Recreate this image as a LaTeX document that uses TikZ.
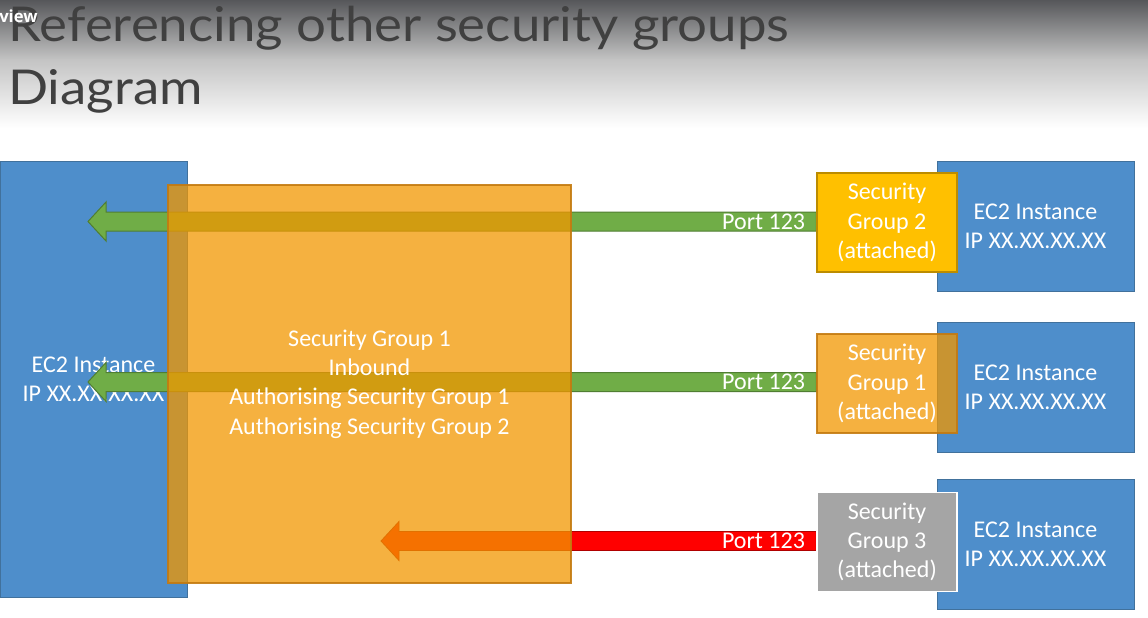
\documentclass[tikz,border=0pt]{standalone}
\usepackage{fontspec}
\setmainfont{Carlito}
\newfontfamily\titlefont{Lato}
\newfontfamily\uifont{Open Sans}
\usetikzlibrary{calc}
\definecolor{ec2blue}{HTML}{4E8ECB}
\definecolor{ec2border}{HTML}{41719C}
\definecolor{sgorange}{HTML}{F29700}
\definecolor{sgorangeborder}{HTML}{C47A10}
\definecolor{sgyellow}{HTML}{FFC000}
\definecolor{sgyellowborder}{HTML}{BC8C00}
\definecolor{sggrey}{HTML}{A5A5A5}
\definecolor{arrgreen}{HTML}{70AD47}
\definecolor{arrgreenborder}{HTML}{507E32}
\definecolor{arrred}{HTML}{FF0000}
\definecolor{arrredborder}{HTML}{B00000}
\definecolor{titlegrey}{HTML}{404040}
\definecolor{topgrey}{HTML}{56575A}
\definecolor{midgrey}{HTML}{C4C4C4}
\pgfdeclarelayer{bg}
\pgfdeclarelayer{mid}
\pgfsetlayers{bg,mid,main}
\newcommand\blockarrow[3]{%
  \filldraw[#1] ($(#2.west |- #3)+(0,-9.5)$) -- ($(#3)+(18,-9.5)$) -- ($(#3)+(18,-19.5)$) -- (#3)
    -- ($(#3)+(18,19.5)$) -- ($(#3)+(18,9.5)$) -- ($(#2.west |- #3)+(0,9.5)$) -- cycle;}
\begin{document}
\begin{tikzpicture}[x=0.75pt,y=-0.75pt,
  txt/.style={text=white, align=center, font=\fontsize{18}{22}\selectfont, inner sep=0pt},
  ec2/.style={txt, draw=ec2border, fill=ec2blue, line width=0.75pt},
  ec2r/.style={ec2, minimum width=147.75pt, minimum height=97.5pt},
  sgbox/.style={txt, minimum width=105pt, minimum height=74.25pt, line width=0.9pt},
  sgtrans/.style={fill=sgorange, fill opacity=0.75, text opacity=1, draw=sgorangeborder, draw opacity=0.9},
  greenarr/.style={fill=arrgreen, draw=arrgreenborder, line width=0.75pt},
  redarr/.style={fill=arrred, draw=arrredborder, line width=0.6pt},
  port/.style={text=white, font=\fontsize{18}{21.6}\selectfont, inner sep=0pt, anchor=east},
  titletxt/.style={text=titlegrey, font=\titlefont\fontsize{36}{40}\selectfont, inner sep=0pt, anchor=base west, xscale=1.1}
]
\useasboundingbox (0,0) rectangle (1148,617);
\begin{pgfonlayer}{bg}
  \fill[white] (0,0) rectangle (1148,617);
  \shade[top color=topgrey, bottom color=midgrey] (0,0) rectangle (1148,60);
  \shade[top color=midgrey, bottom color=white] (0,60) rectangle (1148,128);
  \node[ec2, minimum width=140.25pt, minimum height=327pt] (ec2L) at (93.5,379) {EC2 Instance\\IP XX.XX.XX.XX};
\end{pgfonlayer}
% title
\node[titletxt] (title1) at (8,41.7) {Referencing other security groups};
\node[titletxt] (title2) at (8,104) {Diagram};
\node[text=white, font=\uifont\bfseries\fontsize{12.5}{15}\selectfont, inner sep=0pt, anchor=base west] (view) at (-1,23) {view};
% big security group box
\node[txt, sgtrans, line width=0.9pt, minimum width=302.25pt, minimum height=298.5pt] (sg1in) at (369.5,384)
  {Security Group 1\\Inbound\\Authorising Security Group 1\\Authorising Security Group 2};
% right instances
\node[ec2r] (ec2a) at (1035.5,226) {EC2 Instance\\IP XX.XX.XX.XX};
\node[ec2r] (ec2b) at (1035.5,387) {EC2 Instance\\IP XX.XX.XX.XX};
\node[ec2r] (ec2c) at (1035.5,544.5) {EC2 Instance\\IP XX.XX.XX.XX};
% attached security groups
\node[sgbox, fill=sgyellow, draw=sgyellowborder] (sg2) at (887,222.5) {Security\\Group 2\\(attached)};
\node[sgbox, sgtrans] (sg1) at (887,383.5) {Security\\Group 1\\(attached)};
\node[sgbox, fill=sggrey, draw=white, line width=1.2pt] (sg3) at (887,542) {Security\\Group 3\\(attached)};
% arrows
\coordinate (tip1) at (88,221.5);
\coordinate (tip2) at (88,382);
\coordinate (tip3) at (381,541);
\begin{pgfonlayer}{mid}
  \blockarrow{greenarr}{sg2}{tip1}
  \blockarrow{greenarr}{sg1}{tip2}
  \blockarrow{redarr}{sg3}{tip3}
\end{pgfonlayer}
\node[port] (p2) at ($(sg2.west |- tip1)+(-11,0)$) {Port 123};
\node[port] (p1) at ($(sg1.west |- tip2)+(-11,0)$) {Port 123};
\node[port] (p3) at ($(sg3.west |- tip3)+(-11,0)$) {Port 123};
\end{tikzpicture}
\end{document}
